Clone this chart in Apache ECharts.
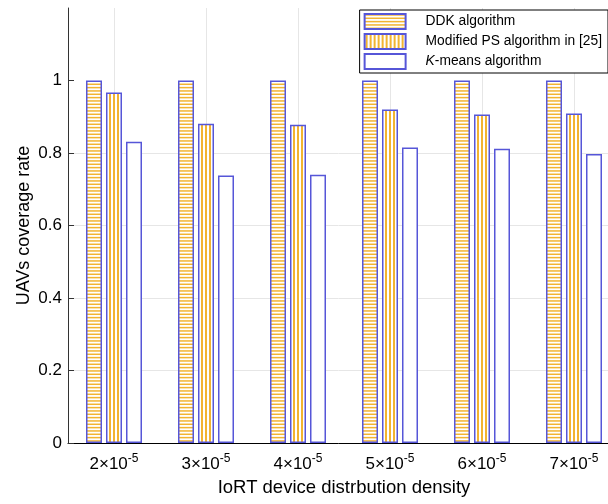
<!DOCTYPE html>
<html><head><meta charset="utf-8">
<script src="https://cdn.jsdelivr.net/npm/echarts@6/dist/echarts.min.js"></script>
<style>html,body{margin:0;padding:0;background:#fff}#c{width:608px;height:504px}</style>
</head><body><div id="c"></div>
<script>
const categories = ['2', '3', '4', '5', '6', '7'];
const ddk = [1, 1, 1, 1, 1, 1];
const modifiedPS = [0.967, 0.881, 0.878, 0.92, 0.906, 0.909];
const kmeans = [0.831, 0.738, 0.74, 0.815, 0.812, 0.797];
const seriesNames = ['DDK algorithm', 'Modified PS algorithm in [25]', 'K-means algorithm'];
const yTicks = [0, 0.2, 0.4, 0.6, 0.8, 1];

const ORANGE = '#F2B431';
const BLUE = '#5656D8';
function hPattern() {
  const c = document.createElement('canvas'); c.width = 4; c.height = 10;
  const g = c.getContext('2d'); g.fillStyle = '#fff'; g.fillRect(0,0,4,10);
  g.fillStyle = ORANGE;
  g.fillRect(0, 0.2, 4, 1.5); g.fillRect(0, 3.53, 4, 1.5); g.fillRect(0, 6.87, 4, 1.5);
  return c;
}
function vPattern() {
  const c = document.createElement('canvas'); c.width = 4; c.height = 4;
  const g = c.getContext('2d'); g.fillStyle = '#fff'; g.fillRect(0,0,4,4);
  g.fillStyle = ORANGE; g.fillRect(1,0,2,4); return c;
}
const FONT = 'Liberation Sans, Arial, sans-serif';
const chart = echarts.init(document.getElementById('c'), null, {renderer: 'canvas'});
chart.setOption({
  animation: false,
  textStyle: {fontFamily: FONT},
  grid: {left: 68, width: 552, top: 8, bottom: 61, containLabel: false, outerBoundsMode: 'none'},
  legend: {
    right: 0, top: 10, orient: 'vertical', icon: 'rect',
    backgroundColor: '#fff', borderColor: '#000', borderWidth: 1,
    padding: [3, 6, 3, 4], itemGap: 3, itemWidth: 41, itemHeight: 15,
    textStyle: {fontSize: 13.8, color: '#000', padding: [0, 0, 0, 15],
      rich: {i: {fontStyle: 'italic', fontSize: 13.8, color: '#000'}, n: {fontSize: 13.8, color: '#000'}}},
    formatter: function (n) { return n === 'K-means algorithm' ? '{i|K}{n|-means algorithm}' : n; },
    data: seriesNames
  },
  xAxis: {
    type: 'category', data: categories,
    name: 'IoRT device distrbution density', nameLocation: 'middle', nameGap: 35,
    nameTextStyle: {fontSize: 18.5, color: '#000'},
    axisLine: {lineStyle: {color: '#000'}},
    axisTick: {show: false},
    splitLine: {show: true, interval: 0, alignWithLabel: true, lineStyle: {color: '#e6e6e6'}},
    axisLabel: {
      interval: 0, color: '#000', fontSize: 17, margin: 10,
      formatter: function (v) { return '{b|' + v + '×10}{s|-5}'; },
      rich: {b: {fontSize: 17, color: '#000'}, s: {fontSize: 12, color: '#000', verticalAlign: 'bottom', padding: [0, 0, 11, 0]}}
    }
  },
  yAxis: {
    type: 'value', min: 0, max: 1.2, interval: 0.2,
    name: 'UAVs coverage rate', nameLocation: 'middle', nameGap: 35, nameMoveOverlap: false,
    nameTextStyle: {fontSize: 18, color: '#000'},
    axisLine: {show: true, lineStyle: {color: '#333'}},
    axisTick: {show: true, inside: true, length: 6, customValues: yTicks, lineStyle: {color: '#333'}},
    splitLine: {show: true, showMaxLine: false, lineStyle: {color: '#e6e6e6'}},
    axisLabel: {color: '#000', fontSize: 17, margin: 6, customValues: yTicks,
      formatter: function (v) { return String(Math.round(v * 10) / 10); }}
  },
  series: [
    {name: seriesNames[0], type: 'bar', data: ddk, barWidth: 16, barGap: '25%',
      itemStyle: {color: {image: hPattern(), repeat: 'repeat'}, borderColor: BLUE, borderWidth: 1.5}},
    {name: seriesNames[1], type: 'bar', data: modifiedPS, barWidth: 16, barGap: '25%',
      itemStyle: {color: {image: vPattern(), repeat: 'repeat'}, borderColor: BLUE, borderWidth: 1.5}},
    {name: seriesNames[2], type: 'bar', data: kmeans, barWidth: 16, barGap: '25%',
      itemStyle: {color: '#fff', borderColor: BLUE, borderWidth: 1.5}}
  ]
});
</script></body></html>
